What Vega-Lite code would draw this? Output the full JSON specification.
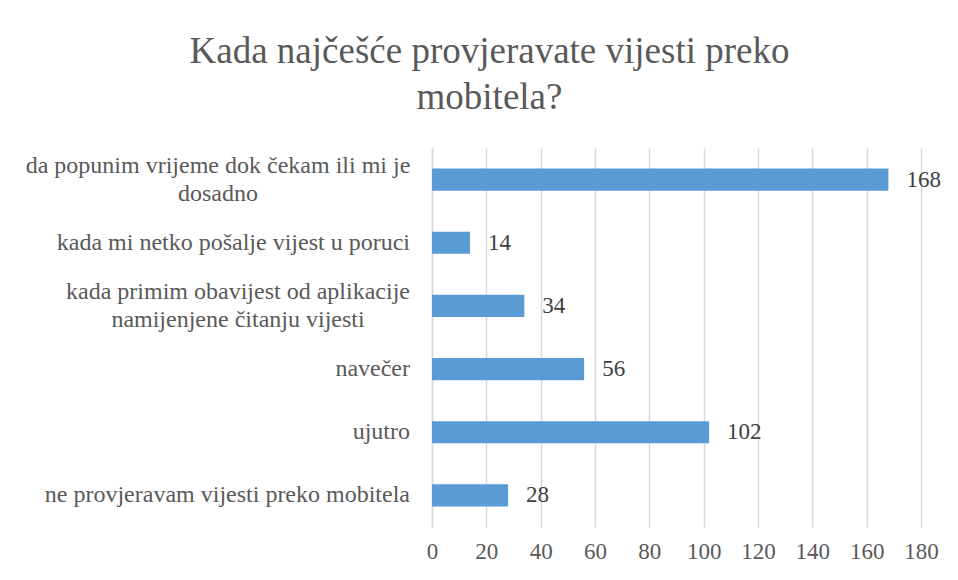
{
  "$schema": "https://vega.github.io/schema/vega-lite/v6.json",
  "autosize": "none",
  "width": 489,
  "height": 379,
  "padding": {"left": 432, "top": 148, "right": 37, "bottom": 53},
  "background": "white",
  "title": {
    "text": ["Kada najčešće provjeravate vijesti preko", "mobitela?"],
    "font": "Liberation Serif",
    "fontSize": 37,
    "fontWeight": "normal",
    "color": "#595959",
    "anchor": "middle",
    "frame": "group",
    "dx": -187,
    "offset": 31,
    "lineHeight": 46
  },
  "data": {
    "values": [
      {"category": "da popunim vrijeme dok čekam ili mi je dosadno", "count": 168},
      {"category": "kada mi netko pošalje vijest u poruci", "count": 14},
      {"category": "kada primim obavijest od aplikacije namijenjene čitanju vijesti", "count": 34},
      {"category": "navečer", "count": 56},
      {"category": "ujutro", "count": 102},
      {"category": "ne provjeravam vijesti preko mobitela", "count": 28}
    ]
  },
  "encoding": {
    "y": {
      "field": "category",
      "type": "nominal",
      "sort": null,
      "scale": {"paddingInner": 0.65, "paddingOuter": 0.325},
      "axis": {
        "title": null,
        "ticks": false,
        "labels": false,
        "domain": true,
        "domainColor": "#d9d9d9",
        "domainWidth": 1.5
      }
    },
    "x": {
      "field": "count",
      "type": "quantitative",
      "scale": {"domain": [0, 180], "nice": false},
      "axis": {
        "title": null,
        "values": [0, 20, 40, 60, 80, 100, 120, 140, 160, 180],
        "ticks": false,
        "domain": false,
        "grid": true,
        "gridColor": "#d9d9d9",
        "gridWidth": 1.5,
        "labelFlush": false,
        "labelOverlap": false,
        "labelFont": "Liberation Serif",
        "labelFontSize": 23,
        "labelColor": "#595959",
        "labelPadding": 13
      }
    }
  },
  "layer": [
    {"mark": {"type": "bar", "color": "#5b9bd5"}},
    {
      "mark": {
        "type": "text",
        "align": "left",
        "baseline": "middle",
        "dx": 18,
        "font": "Liberation Serif",
        "fontSize": 23,
        "color": "#404040"
      },
      "encoding": {"text": {"field": "count", "type": "quantitative"}}
    },
    {
      "transform": [{"filter": "datum.category != 'da popunim vrijeme dok čekam ili mi je dosadno' && datum.category != 'kada primim obavijest od aplikacije namijenjene čitanju vijesti'"}],
      "mark": {
        "type": "text",
        "align": "right",
        "baseline": "middle",
        "dx": -22,
        "font": "Liberation Serif",
        "fontSize": 24,
        "color": "#595959"
      },
      "encoding": {
        "x": {"datum": 0},
        "text": {"field": "category", "type": "nominal"}
      }
    },
    {
      "transform": [{"filter": "datum.category == 'da popunim vrijeme dok čekam ili mi je dosadno'"}],
      "mark": {
        "type": "text",
        "align": "center",
        "baseline": "middle",
        "dx": -214,
        "dy": -14,
        "lineHeight": 28,
        "text": ["da popunim vrijeme dok čekam ili mi je", "dosadno"],
        "font": "Liberation Serif",
        "fontSize": 24,
        "color": "#595959"
      },
      "encoding": {
        "x": {"datum": 0}
      }
    },
    {
      "transform": [{"filter": "datum.category == 'kada primim obavijest od aplikacije namijenjene čitanju vijesti'"}],
      "mark": {
        "type": "text",
        "align": "center",
        "baseline": "middle",
        "dx": -194,
        "dy": -14,
        "lineHeight": 28,
        "text": ["kada primim obavijest od aplikacije", "namijenjene čitanju vijesti"],
        "font": "Liberation Serif",
        "fontSize": 24,
        "color": "#595959"
      },
      "encoding": {
        "x": {"datum": 0}
      }
    }
  ],
  "config": {"view": {"stroke": null}}
}
